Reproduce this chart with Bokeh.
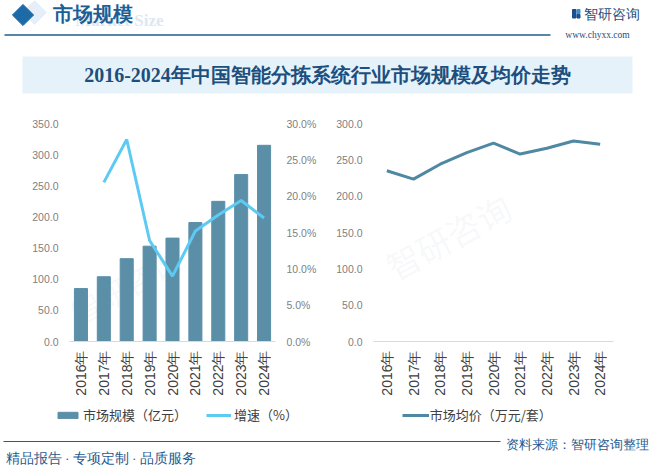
from math import pi
from bokeh.plotting import figure
from bokeh.layouts import column, row
from bokeh.models import (Range1d, FactorRange, LinearAxis, NumeralTickFormatter,
                          FixedTicker, Legend, LegendItem, Label, ColumnDataSource)
from bokeh.embed import file_html
from bokeh.resources import INLINE

# ---------------- data ----------------
years = ["2016年", "2017年", "2018年", "2019年", "2020年", "2021年", "2022年", "2023年", "2024年"]
market_size = [85.0, 104.0, 133.0, 153.0, 166.0, 191.0, 225.0, 268.0, 315.0]   # 亿元
growth = [float("nan"), 0.219, 0.278, 0.139, 0.090, 0.152, 0.174, 0.194, 0.170]  # 增速
avg_price = [235.0, 223.5, 244.0, 260.0, 273.0, 258.0, 266.0, 276.0, 271.5]     # 万元/套
left_ticks = [0, 50, 100, 150, 200, 250, 300, 350]
pct_ticks = [0, 0.05, 0.10, 0.15, 0.20, 0.25, 0.30]
right_ticks = [0, 50, 100, 150, 200, 250, 300]
legend_labels = ["市场规模（亿元）", "增速（%）", "市场均价（万元/套）"]

header_title = "市场规模"
chart_title = "2016-2024年中国智能分拣系统行业市场规模及均价走势"
source_note = "资料来源：智研咨询整理"
slogan = "精品报告 · 专项定制 · 品质服务"

FONT = "Noto Sans CJK SC"
NUMFONT = "Liberation Sans"
BAR_COLOR = "#5b8fa8"
GROWTH_COLOR = "#5ccaf3"
PRICE_COLOR = "#4f88a3"
DARK_BLUE = "#1f5a8f"
TICK_COLOR = "#7f7f7f"


def blank_fig(w, h):
    f = figure(width=w, height=h, x_range=Range1d(0, w), y_range=Range1d(h, 0),
               output_backend="svg", toolbar_location=None,
               x_axis_location=None, y_axis_location=None,
               min_border=0, min_border_left=0, min_border_right=0,
               min_border_top=0, min_border_bottom=0)
    f.outline_line_color = None
    f.xgrid.visible = False
    f.ygrid.visible = False
    f.background_fill_color = "white"
    f.border_fill_color = "white"
    return f


def watermark(p, x, y, size="30px", angle=0.5, alpha=0.07):
    p.add_layout(Label(x=x, y=y, text="智研咨询", angle=angle, text_font=FONT,
                       text_font_size=size, text_color="#7f93aa", text_alpha=alpha,
                       level="underlay"))


# ---------------- header (0..100) ----------------
top = blank_fig(654, 100)
top.scatter(x=[34], y=[12], marker="square", angle=pi / 4, size=17, color="#e6eff8")
top.scatter(x=[22.5], y=[14.5], marker="square", angle=pi / 4, size=15, color="#1c6aa6")
top.text(x=[163], y=[20], text=["Market Size"], text_font_size="17px", text_font_style="bold",
         text_color="#dbe8f3", text_align="right", text_baseline="middle", text_font="Inter")
top.text(x=[52], y=[14], text=[header_title], text_font_size="19.5px", text_font_style="bold",
         text_color="#1b5f96", text_baseline="middle", text_font=FONT)
top.segment(x0=[4], y0=[34.5], x1=[550], y1=[34.5], line_color="#1f5f8b", line_width=1.5)
# logo
top.quad(left=[572], right=[575.5], top=[9], bottom=[17.5], color="#1f4e8c")
top.quad(left=[576.5], right=[579.5], top=[9], bottom=[13], color="#3a8fd0")
top.quad(left=[576.5], right=[579.5], top=[14], bottom=[17.5], color="#1f4e8c")
top.text(x=[583], y=[13.5], text=["智研咨询"], text_font_size="13.5px", text_color="#1f4e79",
         text_baseline="middle", text_font=FONT)
top.text(x=[597], y=[34], text=["www.chyxx.com"], text_font_size="9.5px", text_color="#1f4e79",
         text_baseline="middle", text_align="center", text_font="DejaVu Serif")
# title band
top.quad(left=[22], right=[632], top=[56], bottom=[93], fill_color="#e6f2fa", line_color=None)
top.text(x=[327], y=[74.5], text=[chart_title], text_font_size="20px", text_font_style="bold",
         text_color="#1c4f7d", text_align="center", text_baseline="middle", text_font=FONT)

# ---------------- left chart (y 100..405, x 0..330) ----------------
src = ColumnDataSource(dict(year=years, size=market_size, growth=growth))
left = figure(width=330, height=305, x_range=FactorRange(*years), y_range=Range1d(0, 350),
              output_backend="svg", toolbar_location=None,
              min_border_left=69, min_border_right=55, min_border_top=23, min_border_bottom=64)
left.extra_y_ranges = {"pct": Range1d(0, 0.30)}
bars = left.vbar(x="year", top="size", width=0.57, source=src, color=BAR_COLOR)
gline = left.line(x="year", y="growth", y_range_name="pct", source=src,
                  line_width=3, color=GROWTH_COLOR)
pct_axis = LinearAxis(y_range_name="pct")
left.add_layout(pct_axis, "right")

left.yaxis[0].ticker = FixedTicker(ticks=left_ticks)
left.yaxis[0].formatter = NumeralTickFormatter(format="0.0")
pct_axis.ticker = FixedTicker(ticks=pct_ticks)
pct_axis.formatter = NumeralTickFormatter(format="0.0%")
watermark(left, 0.6, 12, size="30px")

# ---------------- right chart (y 100..405, x 330..654) ----------------
right = figure(width=324, height=305, x_range=FactorRange(*years), y_range=Range1d(0, 300),
               output_backend="svg", toolbar_location=None,
               min_border_left=43, min_border_right=41, min_border_top=23, min_border_bottom=64)
pline = right.line(x=years, y=avg_price, line_width=3, color=PRICE_COLOR)
right.yaxis.ticker = FixedTicker(ticks=right_ticks)
right.yaxis.formatter = NumeralTickFormatter(format="0.0")
watermark(right, 1.0, 70, size="34px")

for p in (left, right):
    p.outline_line_color = None
    p.xgrid.visible = False
    p.ygrid.visible = False
    p.background_fill_color = "white"
    p.border_fill_color = "white"
    for ax in p.yaxis:
        ax.axis_line_color = None
        ax.major_tick_line_color = None
        ax.minor_tick_line_color = None
        ax.major_tick_out = 0
        ax.major_tick_in = 0
        ax.major_label_standoff = 11
        ax.major_label_text_font = NUMFONT
        ax.major_label_text_font_size = "10.5px"
        ax.major_label_text_color = TICK_COLOR
    for ax in p.xaxis:
        ax.axis_line_color = "#d9d9d9"
        ax.axis_line_width = 1
        ax.major_tick_line_color = None
        ax.minor_tick_line_color = None
        ax.major_tick_out = 0
        ax.major_tick_in = 0
        ax.major_label_orientation = pi / 2
        ax.major_label_standoff = 9
        ax.major_label_text_font = NUMFONT
        ax.major_label_text_font_size = "14px"
        ax.major_label_text_color = "#404040"

# ---------------- legend strip (405..430) ----------------
leg = figure(width=654, height=25, x_range=Range1d(0, 654), y_range=Range1d(0, 25),
             output_backend="svg", toolbar_location=None,
             x_axis_location=None, y_axis_location=None,
             min_border=0, min_border_left=0, min_border_right=0,
             min_border_top=0, min_border_bottom=0)
leg.outline_line_color = None
leg.xgrid.visible = False
leg.ygrid.visible = False
leg.border_fill_color = "white"
# legend keys styled like the chart marks; their single point lies outside the visible range
off = [-1000.0, -999.0]
key_bar = leg.vbar(x=off[:1], top=off[:1], width=0.57, color=BAR_COLOR)
key_growth = leg.line(x=off, y=off, line_width=3, color=GROWTH_COLOR)
key_price = leg.line(x=off, y=off, line_width=3, color=PRICE_COLOR)

legend_style = dict(orientation="horizontal", padding=0, margin=0, border_line_color=None,
                    background_fill_alpha=0, label_text_font=FONT, label_text_font_size="13px",
                    label_text_color="#404040", glyph_height=8, label_height=17)
left_leg = Legend(items=[LegendItem(label=legend_labels[0], renderers=[key_bar]),
                         LegendItem(label=legend_labels[1], renderers=[key_growth])],
                  location=(55, 6), glyph_width=25, label_standoff=3, spacing=19,
                  **legend_style)
right_leg = Legend(items=[LegendItem(label=legend_labels[2], renderers=[key_price])],
                   location=(401.7, 6), glyph_width=27, label_standoff=1, **legend_style)
leg.add_layout(left_leg)
leg.add_layout(right_leg)

# ---------------- footer (430..467) ----------------
bottom = blank_fig(654, 37)
bottom.segment(x0=[3], y0=[11], x1=[500], y1=[11], line_color="#1f5f8b", line_width=1.2)
bottom.text(x=[648], y=[14], text=[source_note], text_font_size="13px", text_color=DARK_BLUE,
            text_align="right", text_baseline="middle", text_font=FONT)
bottom.text(x=[5], y=[28], text=[slogan], text_font_size="13.5px", text_color=DARK_BLUE,
            text_baseline="middle", text_font=FONT)

layout = column(top, row(left, right, spacing=0), leg, bottom, spacing=0)
open("out.html", "w").write(file_html(layout, INLINE))
